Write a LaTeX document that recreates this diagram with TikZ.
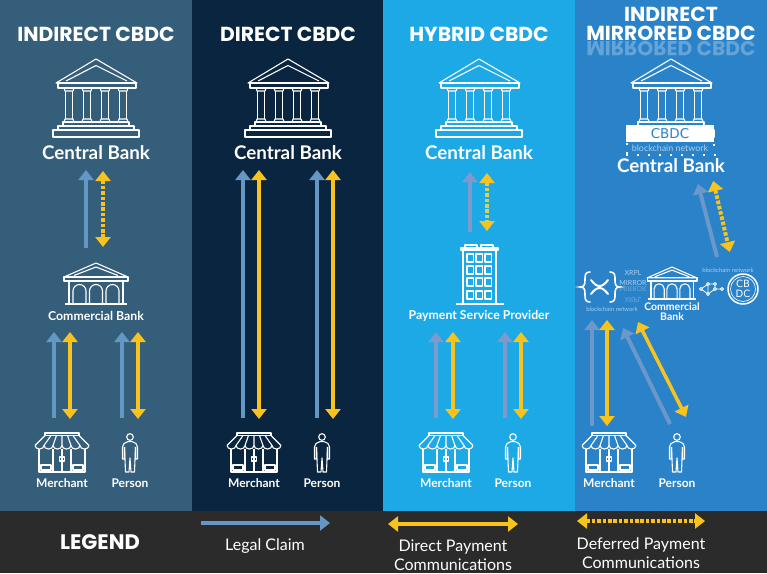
\documentclass[tikz,border=0pt]{standalone}
\usepackage{fontspec}
\setmainfont{Lato}
\newfontfamily\ttlfont{Poppins}
\newfontfamily\dvfont{DejaVu Sans}
\usetikzlibrary{arrows.meta}
\definecolor{colA}{HTML}{355E7B}
\definecolor{colB}{HTML}{0A2540}
\definecolor{colC}{HTML}{1CA9E6}
\definecolor{colD}{HTML}{2A82C9}
\definecolor{barcol}{HTML}{2B2B2B}
\definecolor{legalc}{HTML}{6597C5}
\definecolor{legalf}{HTML}{7C9BCB}
\definecolor{legalg}{HTML}{6B98C9}
\definecolor{yel}{HTML}{F9C31E}
\definecolor{dotp}{HTML}{D2D25C}
\definecolor{pale}{HTML}{A9CFEE}
\tikzset{
  ttl/.style={text=white,font=\ttlfont\bfseries\fontsize{20.3}{22}\selectfont,inner sep=0pt},
  big/.style={text=white,font=\bfseries\fontsize{18.8}{20}\selectfont,inner sep=0pt},
  mid/.style={text=white,font=\bfseries\fontsize{12}{14}\selectfont,inner sep=0pt,align=center},
  midb/.style={text=white,font=\bfseries\fontsize{12.3}{14}\selectfont,inner sep=0pt,align=center},
  leg/.style={text=white,font=\fontsize{16}{19}\selectfont,inner sep=0pt,align=center},
  tiny/.style={text=pale,font=\fontsize{6}{7}\selectfont,inner sep=0pt},
  xrp/.style={text=pale,font=\fontsize{7}{8}\selectfont,inner sep=0pt},
  ico/.style={draw=white,line width=1.1pt,line join=round},
  legal/.style={draw=legalc,line width=4pt,-{Triangle[length=10pt,width=15pt,color=legalc]}},
  legalfd/.style={draw=legalf,line width=4pt,-{Triangle[length=10pt,width=15pt,color=legalf]}},
  legalgd/.style={draw=legalg,line width=4pt,-{Triangle[length=10pt,width=15pt,color=legalg]}},
  direct/.style={draw=yel,line width=3.5pt,{Triangle[length=10pt,width=15pt,color=yel]}-{Triangle[length=10pt,width=15pt,color=yel]}},
  deferred/.style={draw=yel,line width=4pt,dash pattern=on 3.6pt off 1.8pt,{Triangle[length=10pt,width=15pt,color=yel,sep=1pt]}-{Triangle[length=10pt,width=15pt,color=yel,sep=1pt]}},
  deferredp/.style={deferred,draw=dotp},
  pics/bankicon/.style={code={
    \draw[ico] (-40,24) -- (0,0) -- (41,24) -- cycle;
    \draw[ico] (-30,22) -- (0,6.5) -- (31,22);
    \draw[ico] (-38,24) rectangle (40,29);
    \foreach \cx in {-27,-9,9,27}{
      \draw[ico] (\cx-5,29) -- (\cx-4,32) -- (\cx+4,32) -- (\cx+5,29);
      \draw[ico] (\cx-3.2,32) -- (\cx-3.2,60);
      \draw[ico] (\cx+3.2,32) -- (\cx+3.2,60);
      \draw[ico] (\cx-5,63) -- (\cx-4,60) -- (\cx+4,60) -- (\cx+5,63);
    }
    \draw[ico] (-33,63) rectangle (33,67);
    \draw[ico] (-38,67) rectangle (38,71);
    \draw[ico] (-43,71) rectangle (43,78);
  }},
  pics/combank/.style={code={
    \draw[ico] (-32,14) -- (0,0) -- (32,14) -- cycle;
    \draw[ico] (-22,12.5) -- (0,4) -- (22,12.5);
    \draw[ico] (-32,14) rectangle (32,18);
    \draw[ico] (-27,18) -- (-27,41);
    \draw[ico] (27,18) -- (27,41);
    \foreach \cx in {-16.5,0,16.5}{
      \draw[ico] (\cx-6.5,41) -- (\cx-6.5,28) arc[start angle=180,end angle=0,x radius=6.5,y radius=-6.5] -- (\cx+6.5,41);
    }
    \draw[ico] (-31,41) -- (31,41);
  }},
  pics/shopicon/.style={code={
    \draw[ico] (-17,0) rectangle (17,2.5);
    \draw[ico] (-17,2.5) -- (-27,12.5) (17,2.5) -- (27,12.5);
    \draw[ico] (-27,12.5) arc[start angle=180,end angle=360,x radius=4.5,y radius=-3.5]
      arc[start angle=180,end angle=360,x radius=4.5,y radius=-3.5]
      arc[start angle=180,end angle=360,x radius=4.5,y radius=-3.5]
      arc[start angle=180,end angle=360,x radius=4.5,y radius=-3.5]
      arc[start angle=180,end angle=360,x radius=4.5,y radius=-3.5]
      arc[start angle=180,end angle=360,x radius=4.5,y radius=-3.5];
    \draw[ico] (-11,2.5) -- (-18,12.5) (-5.5,2.5) -- (-9,12.5) (0,2.5) -- (0,12.5) (5.5,2.5) -- (9,12.5) (11,2.5) -- (18,12.5);
    \draw[ico] (-23,16) -- (-23,39) -- (23,39) -- (23,16);
    \draw[ico] (-9,16) -- (-9,39) (9,16) -- (9,39) (0,16) -- (0,39);
    \draw[ico] (-21,32) rectangle (-11,37);
    \draw[ico] (11,32) rectangle (21,37);
    \draw[ico] (-2.5,24) rectangle (2.5,28);
  }},
  pics/personicon/.style={code={
    \draw[ico] (0,4) circle[radius=3.3];
    \draw[ico] (-2,8.5) -- (-6,10.5) -- (-7.5,14) -- (-7.5,26) -- (-5.5,26) -- (-5.5,14)
      (2,8.5) -- (6,10.5) -- (7.5,14) -- (7.5,26) -- (5.5,26) -- (5.5,14)
      (-2,8.5) -- (2,8.5);
    \draw[ico] (-5.5,14) -- (-4.5,39) -- (-1,39) -- (0,25) -- (1,39) -- (4.5,39) -- (5.5,14);
  }},
  pics/towericon/.style={code={
    \draw[ico] (-14.5,3) -- (-14.5,0) -- (-2.5,0) -- (-2.5,3) (1.5,3) -- (1.5,0) -- (13.5,0) -- (13.5,3);
    \draw[ico] (-18.5,3) rectangle (18.5,5);
    \draw[ico] (-16.5,5) -- (-16.5,58) (16.5,5) -- (16.5,58);
    \draw[ico] (-24,59) -- (24,59);
    \foreach \wy in {9,21,33,46}{
      \foreach \wx in {-12.5,-3.5,5.5}{
        \draw[ico] (\wx,\wy) rectangle (\wx+6.5,\wy+8);
      }
    }
  }},
}
\newcommand\arw[4]{\coordinate (#2a) at (#3); \coordinate (#2b) at (#4); \draw[#1] (#2a) -- (#2b);}
\begin{document}
\begin{tikzpicture}[x=1pt,y=-1pt]
\useasboundingbox (0,0) rectangle (767,573);
\fill[colA] (0,0) rectangle (192,511);
\fill[colB] (192,0) rectangle (383,511);
\fill[colC] (383,0) rectangle (575,511);
\fill[colD] (575,0) rectangle (767,511);
\fill[barcol] (0,511) rectangle (767,573);
% titles
\node[ttl] (t1) at (96,34) {INDIRECT CBDC};
\node[ttl] (t2) at (288,34) {DIRECT CBDC};
\node[ttl] (t3) at (479,34) {HYBRID CBDC};
\node[ttl] (t4a) at (671,14) {INDIRECT};
\node[ttl] (t4b) at (671,33) {MIRRORED CBDC};
\node[ttl,yscale=-1,opacity=.28] (t4c) at (671,49) {MIRRORED CBDC};
% central banks
\pic (b1) at (96,59) {bankicon};
\pic (b2) at (288,59) {bankicon};
\pic (b3) at (479,59) {bankicon};
\pic (b4) at (671,59) {bankicon};
\node[big] (cb1) at (96,153) {Central Bank};
\node[big] (cb2) at (288,153) {Central Bank};
\node[big] (cb3) at (479,153) {Central Bank};
\node[big] (cb4) at (671,166) {Central Bank};
% chain block
\fill[white] (626,125) rectangle (714,142);
\node[text=colD,font=\dvfont\fontsize{13.5}{14}\selectfont,inner sep=0pt] (cbdcword) at (670,134) {CBDC};
\node[text=pale,font=\fontsize{8.9}{10}\selectfont,inner sep=0pt] (chainword) at (670,148) {blockchain network};
\foreach \dx in {627,638,649,660,671,682,693,704,715}{\fill[white] (\dx-1,154) rectangle (\dx+1,156);}
\fill[white] (626,143) rectangle (628,145);
\fill[white] (713,144) rectangle (715,146);
\fill[white] (626,152) rectangle (628,154);
% commercial banks, provider
\pic (cm1) at (96,263) {combank};
\node[midb] (cmt1) at (96,316) {Commercial Bank};
\pic[scale=.78] (cm4) at (672,267) {combank};
\node[text=white,font=\bfseries\fontsize{10.5}{9.5}\selectfont,inner sep=0pt,align=center] (cmt4) at (672,311.5) {Commercial\\Bank};
\pic (pr3) at (479.5,245) {towericon};
\node[midb] (prt3) at (479,316) {Payment Service Provider};
% merchants and persons
\foreach \nm/\mx/\px in {1/62/130,2/254/322,3/446/513,4/609/677}{
  \pic (sh\nm) at (\mx,433) {shopicon};
  \pic (pe\nm) at (\px,433) {personicon};
  \node[mid] (mt\nm) at (\mx,483) {Merchant};
  \node[mid] (pt\nm) at (\px,483) {Person};
}
% column 1 arrows
\arw{legal}{aa}{86,248}{86,170}
\arw{deferred}{ab}{103,170}{103,248}
\arw{legal}{ac}{54,418}{54,332}
\arw{direct}{ad}{70,332}{70,419}
\arw{legal}{ae}{122,418}{122,332}
\arw{direct}{af}{138,332}{138,419}
% column 2 arrows
\arw{legal}{ba}{243,418}{243,170}
\arw{direct}{bb}{259,170}{259,419}
\arw{legal}{bc}{317,418}{317,170}
\arw{direct}{bd}{333,170}{333,419}
% column 3 arrows
\arw{legalfd}{ca}{470,232}{470,172}
\arw{deferredp}{cb}{487,172}{487,232}
\arw{legalfd}{cc}{436,418}{436,332}
\arw{direct}{cd}{453,332}{453,419}
\arw{legalfd}{ce}{505,418}{505,332}
\arw{direct}{cf}{521,332}{521,419}
% column 4 arrows
\arw{legalgd}{da}{717,257}{698,184}
\arw{deferred}{db}{713,180}{730,253}
\arw{legalgd}{dc}{592,426}{592,320}
\arw{direct}{dd}{607,320}{607,426}
\arw{legalgd}{de}{670,424}{623,328}
\arw{direct}{df}{638,322}{686,417}
% XRPL group
\draw[white,line width=1.6pt,line cap=round] (590,272) .. controls (585,272) and (585,275) .. (585,280) .. controls (585,285) and (584,287) .. (580,287) .. controls (584,287) and (585,289) .. (585,294) .. controls (585,299) and (585,302) .. (590,302);
\draw[white,line width=1.6pt,line cap=round] (610,272) .. controls (615,272) and (615,275) .. (615,280) .. controls (615,285) and (616,287) .. (620,287) .. controls (616,287) and (615,289) .. (615,294) .. controls (615,299) and (615,302) .. (610,302);
\draw[white,line width=2pt,line cap=round] (591,280) .. controls (597,288) and (602,288) .. (608,280);
\draw[white,line width=2pt,line cap=round] (591,294) .. controls (597,286) and (602,286) .. (608,294);
\node[xrp] (xrpl) at (633,272.5) {XRPL};
\node[xrp] (mirror) at (633,283) {MIRROR};
\node[xrp,yscale=-1,opacity=.5] (mirrorb) at (633,289.5) {MIRROR};
\node[xrp,yscale=-1,opacity=.5] (xrplb) at (633,300) {XRPL};
\node[tiny] (netL) at (612,309) {blockchain network};
\node[tiny] (netR) at (728,270) {blockchain network};
% network glyph
\coordinate (g1) at (701,289);
\coordinate (g2) at (708,284);
\coordinate (g3) at (715,284);
\coordinate (g4) at (708,294);
\coordinate (g5) at (715,289);
\coordinate (g6) at (722,289);
\draw[white,line width=.8pt] (g1) -- (g2) -- (g3) -- (g5) -- (g6) (g1) -- (g4) -- (g5) (g2) -- (g4);
\foreach \g in {g1,g2,g3,g4,g5,g6}{\filldraw[draw=white,fill=colD,line width=.8pt] (\g) circle[radius=1.5];}
% coin
\node[draw=white,line width=1.5pt,circle,minimum size=30pt,inner sep=0pt] (coin) at (743,289) {};
\draw[white,line width=.6pt] (743,289) circle[radius=12.5];
\node[text=white,font=\dvfont\fontsize{10}{9.5}\selectfont,inner sep=0pt,align=center] (coint) at (743,289) {CB\\DC};
% legend
\node[text=white,font=\ttlfont\bfseries\fontsize{21}{22}\selectfont,inner sep=0pt] (lgd) at (100,542) {LEGEND};
\arw{legal}{la}{201,523}{330,523}
\arw{direct}{lb}{388,524}{518,524}
\arw{deferred}{lc}{576,521}{706,521}
\node[leg] (l1) at (265,546) {Legal Claim};
\node[leg] (l2) at (453,555) {Direct Payment\\Communications};
\node[leg] (l3) at (641,553) {Deferred Payment\\Communications};
\end{tikzpicture}
\end{document}
